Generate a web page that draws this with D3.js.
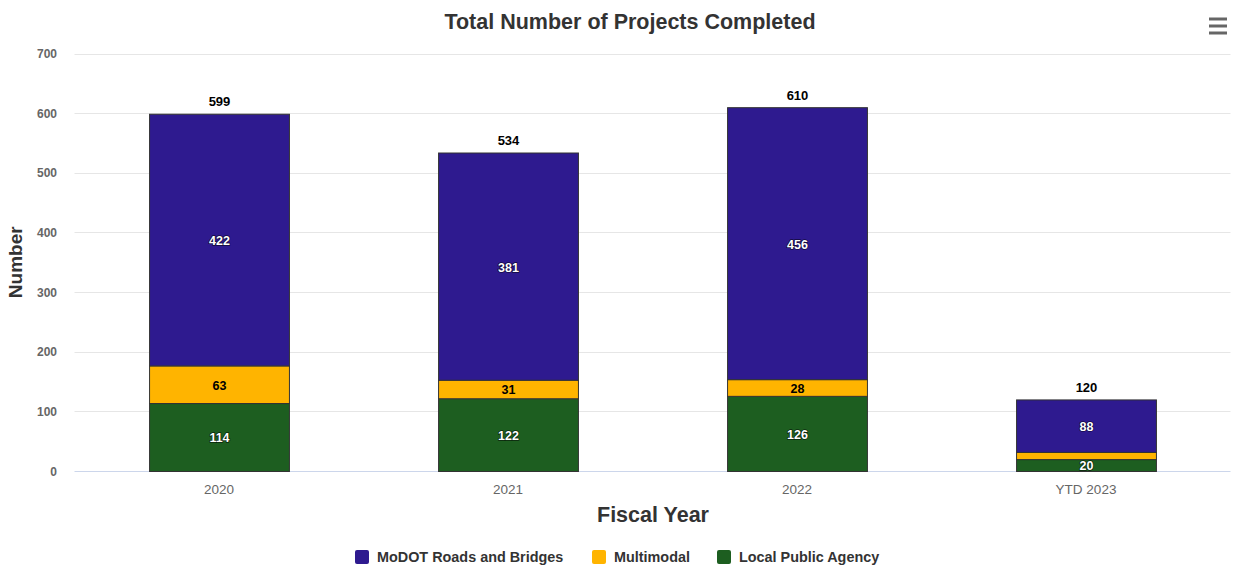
<!DOCTYPE html>
<html>
<head>
<meta charset="utf-8">
<script src="https://cdn.jsdelivr.net/npm/d3@7/dist/d3.min.js"></script>
<style>
  html, body { margin: 0; padding: 0; background: #fff; }
  svg { display: block; font-family: "Liberation Sans", Arial, Helvetica, sans-serif; }
</style>
</head>
<body>
<svg id="chart" width="1233" height="569"></svg>
<script>
// Fiscal years and project counts by program
const categories = ["2020", "2021", "2022", "YTD 2023"];
const seriesNames = ["MoDOT Roads and Bridges", "Multimodal", "Local Public Agency"];
const modotRoads = [422, 381, 456, 88];
const multimodal = [63, 31, 28, 12];
const localAgency = [114, 122, 126, 20];
const totals = [599, 534, 610, 120];
const yTicks = [0, 100, 200, 300, 400, 500, 600, 700];
const seriesColors = ["#2e1a8f", "#ffb400", "#1d5e20"];

const svg = d3.select("#chart");
const plot = { left: 74.5, right: 1230.5, top: 53.5, bottom: 471 };

const x = d3.scaleBand()
  .domain(categories)
  .range([plot.left, plot.right])
  .paddingInner(0.516)
  .paddingOuter(0.258);

const y = d3.scaleLinear().domain([0, 700]).range([plot.bottom, plot.top]);

// Gridlines
svg.append("g")
  .selectAll("line")
  .data(yTicks.filter(d => d > 0))
  .join("line")
  .attr("x1", plot.left).attr("x2", plot.right)
  .attr("y1", d => Math.round(y(d)) + 0.5).attr("y2", d => Math.round(y(d)) + 0.5)
  .attr("stroke", "#e6e6e6").attr("stroke-width", 1);

// Y axis labels
const yAxis = d3.axisLeft(y).tickValues(yTicks).tickSize(0).tickPadding(0);
const gy = svg.append("g").attr("transform", `translate(${57},0)`).call(yAxis);
gy.select(".domain").remove();
gy.selectAll("text")
  .attr("fill", "#666").attr("font-size", "12px").attr("font-weight", "bold")
  .attr("dy", "0.35em");

// X axis
const xAxis = d3.axisBottom(x).tickSize(0).tickPadding(0);
const gx = svg.append("g").attr("transform", `translate(0,${plot.bottom})`).call(xAxis);
gx.select(".domain").attr("stroke", "#ccd6eb").attr("d", `M${plot.left},0.5H${plot.right}`);
gx.selectAll("text")
  .attr("fill", "#666").attr("font-size", "13.5px")
  .attr("y", 18).attr("dy", "0.35em");

// Stacked data
const rows = categories.map((c, i) => ({
  cat: c,
  "MoDOT Roads and Bridges": modotRoads[i],
  "Multimodal": multimodal[i],
  "Local Public Agency": localAgency[i]
}));
const stack = d3.stack().keys(seriesNames.slice().reverse());
const layers = stack(rows);
const colorOf = d3.scaleOrdinal().domain(seriesNames).range(seriesColors);

const layerG = svg.append("g")
  .selectAll("g")
  .data(layers)
  .join("g")
  .attr("fill", d => colorOf(d.key));

layerG.selectAll("rect")
  .data(d => d.map(s => ({ key: d.key, s })))
  .join("rect")
  .attr("x", d => x(d.s.data.cat) + 0.5)
  .attr("width", x.bandwidth())
  .attr("y", d => y(d.s[1]) + 0.5)
  .attr("height", d => y(d.s[0]) - y(d.s[1]))
  .attr("stroke", "#333").attr("stroke-width", 1);

// Segment value labels (skipped when the segment is too thin to hold one)
const labelG = svg.append("g");
layers.forEach(layer => {
  layer.forEach(s => {
    const v = s[1] - s[0];
    const h = y(s[0]) - y(s[1]);
    if (h < 8 || (layer.key === "Multimodal" && h < 14)) return;
    const dark = layer.key === "Multimodal";
    labelG.append("text")
      .attr("x", x(s.data.cat) + x.bandwidth() / 2 + 0.5)
      .attr("y", (y(s[0]) + y(s[1])) / 2 + 1)
      .attr("dy", "0.35em")
      .attr("text-anchor", "middle")
      .attr("font-size", "12.5px").attr("font-weight", "bold")
      .attr("fill", dark ? "#000" : "#fff")
      .attr("stroke", dark ? "#fff" : "#000")
      .attr("stroke-width", dark ? 0 : 1.5)
      .attr("stroke-opacity", 0.6)
      .attr("paint-order", "stroke")
      .text(v);
  });
});

// Totals above stacks
svg.append("g")
  .selectAll("text")
  .data(categories.map((c, i) => ({ c, t: totals[i] })))
  .join("text")
  .attr("x", d => x(d.c) + x.bandwidth() / 2 + 0.5)
  .attr("y", d => y(d.t) - 12)
  .attr("text-anchor", "middle")
  .attr("dy", "0.35em")
  .attr("font-size", "13px").attr("font-weight", "bold")
  .attr("fill", "#000")
  .text(d => d.t);

// Titles
svg.append("text")
  .attr("x", 630).attr("y", 21).attr("dy", "0.35em")
  .attr("text-anchor", "middle")
  .attr("font-size", "21.5px").attr("font-weight", "bold").attr("fill", "#333")
  .text("Total Number of Projects Completed");

svg.append("text")
  .attr("transform", `translate(15,${(plot.top + plot.bottom) / 2}) rotate(-90)`)
  .attr("dy", "0.35em")
  .attr("text-anchor", "middle")
  .attr("font-size", "19px").attr("font-weight", "bold").attr("fill", "#333")
  .text("Number");

svg.append("text")
  .attr("x", 653).attr("y", 514).attr("dy", "0.35em")
  .attr("text-anchor", "middle")
  .attr("font-size", "21.5px").attr("font-weight", "bold").attr("fill", "#333")
  .text("Fiscal Year");

// Legend
const legendItems = [
  { name: seriesNames[0], x: 355 },
  { name: seriesNames[1], x: 592 },
  { name: seriesNames[2], x: 717 }
];
const lg = svg.append("g")
  .selectAll("g")
  .data(legendItems)
  .join("g")
  .attr("transform", d => `translate(${d.x},557)`);
lg.append("rect")
  .attr("x", 0).attr("y", -7).attr("width", 14).attr("height", 14)
  .attr("rx", 2)
  .attr("fill", d => colorOf(d.name));
lg.append("text")
  .attr("x", 22).attr("dy", "0.35em")
  .attr("font-size", "14.4px").attr("font-weight", "bold").attr("fill", "#333")
  .text(d => d.name);

// Menu icon
const menu = svg.append("g").attr("transform", "translate(1209,26)");
[-7, 0, 7].forEach(dy => {
  menu.append("line")
    .attr("x1", 0).attr("x2", 18).attr("y1", dy).attr("y2", dy)
    .attr("stroke", "#666").attr("stroke-width", 3);
});
</script>
</body>
</html>
